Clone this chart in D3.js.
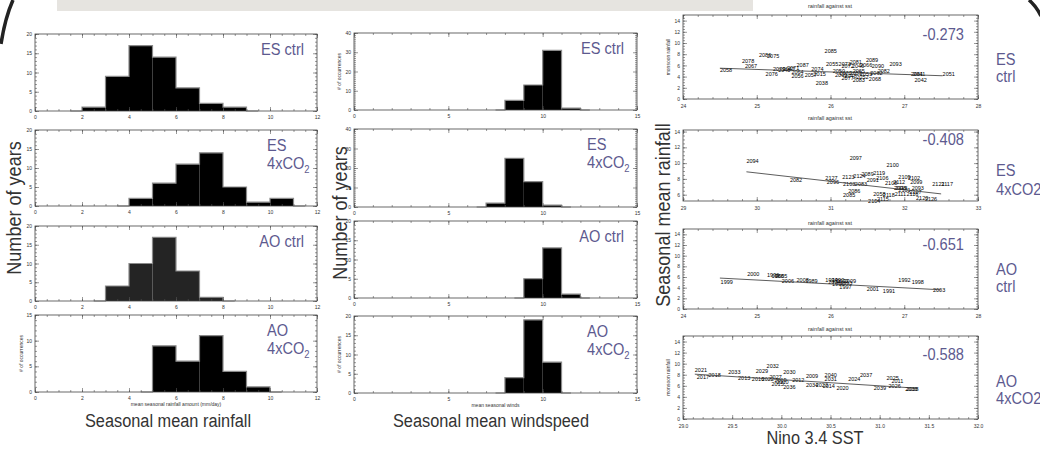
<!DOCTYPE html>
<html>
<head>
<meta charset="utf-8">
<script src="https://cdn.jsdelivr.net/npm/d3@7"></script>
<style>
  body { margin: 0; background: #fff; }
  svg { display: block; }
</style>
</head>
<body>
<svg id="chart" width="1040" height="450"></svg>
<script>
// ---- data ----
var runNames = ["ES ctrl", "ES 4xCO2", "AO ctrl", "AO 4xCO2"];
var correlations = ["-0.273", "-0.408", "-0.651", "-0.588"];

// histograms: first bin start + counts in 1-unit bins
var rainStarts = [2, 4, 3, 5];
var esCtrlRain = [1, 9, 17, 14, 6, 2, 1];
var es4xRain = [2, 6, 11, 14, 5, 1, 2];
var aoCtrlRain = [4, 10, 17, 8, 1];
var ao4xRain = [9, 6, 11, 4, 1];
var rainYMax = [20, 20, 20, 15];
var rainXTicks = [0, 2, 4, 6, 8, 10, 12];

var windStarts = [8, 7, 9, 8];
var esCtrlWind = [5, 13, 31, 1];
var es4xWind = [2, 25, 13, 1];
var aoCtrlWind = [5, 13, 1];
var ao4xWind = [4, 19, 8];
var windYMax = [40, 40, 20, 20];
var windXTicks = [0, 5, 10, 15];

// scatter: year labels at (nino3.4 sst, rainfall)
var esCtrlYears = [2058, 2078, 2067, 2086, 2075, 2079, 2076, 2043, 2047, 2071, 2064, 2056, 2087, 2074, 2057, 2015, 2085, 2055, 2038, 2073, 2081, 2072, 2046, 2089, 2066, 2090, 2093, 2082, 2062, 2068, 2083, 2050, 2049, 2070, 2048, 2059, 2065, 2052, 2077, 2053, 2061, 2041, 2042, 2051];
var esCtrlSst = [24.50, 24.80, 24.84, 25.03, 25.14, 25.22, 25.12, 25.29, 25.35, 25.41, 25.47, 25.47, 25.54, 25.74, 25.65, 25.77, 25.92, 25.94, 25.80, 26.11, 26.26, 26.15, 26.29, 26.48, 26.40, 26.56, 26.80, 26.64, 26.54, 26.52, 26.30, 26.03, 26.06, 26.12, 26.19, 26.26, 26.30, 26.35, 26.15, 26.40, 27.09, 27.12, 27.14, 27.52];
var esCtrlRainfall = [5.2, 6.8, 5.9, 7.9, 7.6, 5.3, 4.5, 5.1, 5.4, 5.5, 4.8, 4.1, 6.1, 5.4, 4.2, 4.5, 8.6, 6.25, 2.9, 6.25, 6.55, 5.8, 5.8, 7.0, 6.1, 5.8, 6.25, 4.9, 4.7, 3.6, 3.4, 4.9, 4.3, 4.7, 4.1, 4.6, 5.05, 4.0, 3.75, 4.45, 4.45, 4.45, 3.3, 4.45];

var es4xYears = [2094, 2082, 2097, 2100, 2127, 2096, 2123, 2124, 2089, 2119, 2106, 2091, 2103, 2083, 2086, 2085, 2108, 2112, 2109, 2102, 2099, 2093, 2121, 2117, 2058, 2118, 2111, 2116, 2107, 2120, 2126, 2104, 2115, 2098, 2101, 2113];
var es4xSst = [29.86, 30.45, 31.26, 31.76, 30.93, 30.95, 31.16, 31.31, 31.42, 31.58, 31.62, 31.49, 31.17, 31.33, 31.24, 31.17, 31.74, 31.85, 31.92, 32.05, 32.08, 32.10, 32.38, 32.50, 31.58, 31.71, 31.87, 32.03, 32.07, 32.16, 32.28, 31.51, 31.63, 31.86, 31.92, 31.88];
var es4xRainfall = [10.2, 7.8, 10.7, 9.7, 8.1, 7.6, 8.2, 8.4, 8.6, 8.7, 8.1, 7.8, 7.3, 7.4, 6.5, 6.0, 7.5, 7.6, 8.2, 8.1, 7.6, 6.9, 7.3, 7.3, 6.1, 6.0, 6.1, 6.1, 6.3, 5.6, 5.5, 5.2, 5.5, 6.8, 6.6, 6.9];

var aoCtrlYears = [1999, 2000, 1996, 1988, 2005, 2006, 2008, 1989, 1994, 2004, 1990, 2002, 1993, 2009, 1995, 1997, 2001, 1991, 1992, 1998, 2003];
var aoCtrlSst = [24.51, 24.87, 25.14, 25.20, 25.25, 25.34, 25.54, 25.66, 25.93, 25.97, 26.02, 26.08, 26.13, 26.18, 26.02, 26.12, 26.49, 26.71, 26.92, 27.10, 27.39];
var aoCtrlRainfall = [5.0, 6.5, 6.4, 6.2, 6.1, 5.3, 5.5, 5.2, 5.45, 5.0, 5.45, 5.15, 4.85, 5.15, 4.7, 4.1, 3.75, 3.4, 5.45, 5.1, 3.5];

var ao4xYears = [2021, 2017, 2018, 2033, 2013, 2029, 2032, 2030, 2016, 2022, 2027, 2019, 2010, 2015, 2036, 2012, 2009, 2034, 2023, 2040, 2031, 2014, 2020, 2024, 2037, 2039, 2025, 2011, 2026, 2035, 2038];
var ao4xSst = [29.12, 29.14, 29.26, 29.46, 29.56, 29.74, 29.85, 30.02, 29.70, 29.80, 29.88, 29.93, 29.95, 29.90, 30.02, 30.11, 30.25, 30.25, 30.35, 30.44, 30.44, 30.42, 30.56, 30.68, 30.80, 30.94, 31.07, 31.12, 31.09, 31.26, 31.27];
var ao4xRainfall = [8.9, 7.5, 7.9, 8.4, 7.4, 8.6, 9.5, 8.5, 7.3, 7.3, 7.6, 7.0, 6.6, 6.3, 5.8, 7.0, 7.8, 6.1, 6.1, 7.9, 7.3, 5.9, 5.5, 7.2, 8.0, 5.5, 7.4, 6.8, 6.0, 5.4, 5.4];

// regression line end points [sst0, rain0, sst1, rain1]
var fitLines = [[24.5, 5.5, 27.52, 4.15], [29.86, 8.9, 32.5, 6.1], [24.5, 5.8, 27.5, 3.6], [29.12, 8.1, 31.35, 5.6]];
var sstXTicks = [[24, 25, 26, 27, 28], [29, 30, 31, 32, 33], [24, 25, 26, 27, 28], [29.0, 29.5, 30.0, 30.5, 31.0, 31.5, 32.0]];
var sstYDomain = [[0, 15], [5.2, 14.2], [0, 15], [0, 15]];

// ---- drawing ----
var purple = "#5d5a8f";
var slideFont = "'Liberation Sans', Arial, sans-serif";
var tinyFont = "'Liberation Sans', Arial, sans-serif";
var squeeze = 0.86; // slide font is narrower than Liberation Sans

var svg = d3.select("#chart");

// slide leftovers
svg.append("rect").attr("x", 57).attr("y", 0).attr("width", 696).attr("height", 11).attr("fill", "#e6e4e0");
svg.append("path").attr("d", "M13,0 Q5,18 1,44").attr("fill", "none").attr("stroke", "#222").attr("stroke-width", 3.5);
svg.append("path").attr("d", "M1029,0 Q1036,6 1041,16").attr("fill", "none").attr("stroke", "#222").attr("stroke-width", 3.5);

// slide text, horizontally condensed
function slideText(g, x, y, size, color, anchor, rot) {
  return g.append("text")
    .attr("transform", "translate(" + x + "," + y + ")" + (rot ? " rotate(-90)" : "") + " scale(" + squeeze + ",1)")
    .attr("text-anchor", anchor || "start")
    .attr("font-family", slideFont).attr("font-size", size).attr("fill", color);
}

function stepRange(lo, hi, step) {
  var out = [];
  for (var v = lo; v <= hi + 1e-9; v += step) out.push(+v.toFixed(4));
  return out;
}

function drawFrame(g, xs, ys, o) {
  var x0 = xs.range()[0], x1 = xs.range()[1], yb = ys.range()[0], yt = ys.range()[1];
  var xd = xs.domain(), yd = ys.domain();
  var xMinor = stepRange(xd[0], xd[1], o.xMinor);
  var yMinor = stepRange(Math.ceil(yd[0] / o.yMinor) * o.yMinor, yd[1], o.yMinor);
  function put(axis, tx, ty) {
    var a = g.append("g").attr("transform", "translate(" + tx + "," + ty + ")").call(axis);
    a.select(".domain").remove();
    a.attr("font-size", 5).attr("font-family", tinyFont).attr("color", "#333");
    a.selectAll("line").attr("stroke", "#555").attr("stroke-width", 0.6);
    return a;
  }
  put(d3.axisBottom(xs).tickValues(o.xTicks).tickSize(-4).tickPadding(o.xPad || 4).tickFormat(o.xFmt || d3.format("")), 0, yb);
  put(d3.axisBottom(xs).tickValues(xMinor).tickSize(-2).tickFormat(""), 0, yb);
  put(d3.axisTop(xs).tickValues(o.xTicks).tickSize(-4).tickFormat(""), 0, yt);
  put(d3.axisTop(xs).tickValues(xMinor).tickSize(-2).tickFormat(""), 0, yt);
  put(d3.axisLeft(ys).tickValues(o.yTicks).tickSize(-4).tickPadding(3).tickFormat(d3.format("")), x0, 0);
  put(d3.axisLeft(ys).tickValues(yMinor).tickSize(-2).tickFormat(""), x0, 0);
  put(d3.axisRight(ys).tickValues(o.yTicks).tickSize(-4).tickFormat(""), x1, 0);
  put(d3.axisRight(ys).tickValues(yMinor).tickSize(-2).tickFormat(""), x1, 0);
  g.append("rect").attr("x", x0).attr("y", yt).attr("width", x1 - x0).attr("height", yb - yt)
    .attr("fill", "none").attr("stroke", "#444").attr("stroke-width", 0.8);
}

function runLabel(g, name, right, top) {
  var parts = name.split(" ");
  if (parts[1] === "ctrl") {
    slideText(g, right - 13, top + 21, 17, purple, "end").text(name);
  } else {
    slideText(g, right - 50, top + 21, 17, purple).text(parts[0]);
    var t = slideText(g, right - 50, top + 39, 17, purple);
    t.append("tspan").text(parts[1].slice(0, -1));
    t.append("tspan").attr("font-size", 11).attr("dy", 4).text(parts[1].slice(-1));
  }
}

function drawHist(p) {
  var g = svg.append("g");
  var xs = d3.scaleLinear().domain(p.xDomain).range([p.left, p.right]);
  var ys = d3.scaleLinear().domain([0, p.yMax]).range([p.bottom, p.top]);
  var bins = p.counts.map(function(c, i) { return {x0: p.start + i, x1: p.start + i + 1, n: c}; });
  g.selectAll("rect.bar").data(bins).enter().append("rect").attr("class", "bar")
    .attr("x", function(d) { return xs(d.x0); })
    .attr("width", function(d) { return xs(d.x1) - xs(d.x0); })
    .attr("y", function(d) { return ys(d.n); })
    .attr("height", function(d) { return ys(0) - ys(d.n); })
    .attr("fill", p.fill);
  var pts = [[p.start - 0.5, 0], [p.start, 0]];
  bins.forEach(function(b) { pts.push([b.x0, b.n], [b.x1, b.n]); });
  pts.push([p.start + bins.length, 0], [p.start + bins.length + 0.5, 0]);
  var step = d3.line().x(function(d) { return xs(d[0]); }).y(function(d) { return ys(d[1]); });
  g.append("path").attr("d", step(pts)).attr("fill", "none").attr("stroke", "#8a8a8a").attr("stroke-width", 1.2);
  drawFrame(g, xs, ys, {xTicks: p.xTicks, xMinor: p.xMinor, yTicks: d3.range(0, p.yMax + 1, p.yMajor), yMinor: 1});
  runLabel(g, p.name, p.right, p.top);
  if (p.yTitle) {
    g.append("text").attr("transform", "translate(" + p.yTitleX + "," + (p.top + p.bottom) / 2 + ") rotate(-90)")
      .attr("text-anchor", "middle").attr("font-family", tinyFont).attr("font-size", 5).attr("fill", "#333").text("# of occurrences");
  }
  if (p.xTitle) {
    g.append("text").attr("x", (p.left + p.right) / 2).attr("y", p.bottom + 14)
      .attr("text-anchor", "middle").attr("font-family", tinyFont).attr("font-size", 5).attr("fill", "#333").text(p.xTitle);
  }
}

var rainCounts = [esCtrlRain, es4xRain, aoCtrlRain, ao4xRain];
var windCounts = [esCtrlWind, es4xWind, aoCtrlWind, ao4xWind];
var leftTops = [34, 130, 226, 315], leftBottoms = [111, 206, 301, 392];
var midTops = [33, 129, 221, 316], midBottoms = [110, 207, 298, 393];

for (var i = 0; i < 4; i++) {
  drawHist({
    name: runNames[i], left: 35, right: 317, top: leftTops[i], bottom: leftBottoms[i],
    xDomain: [0, 12], xTicks: rainXTicks, xMinor: 0.5,
    yMax: rainYMax[i], yMajor: 5, start: rainStarts[i], counts: rainCounts[i],
    fill: i === 2 ? "#242424" : "#000",
    yTitle: i === 3, yTitleX: 23,
    xTitle: i === 3 ? "mean seasonal rainfall amount (mm/day)" : null
  });
  drawHist({
    name: runNames[i], left: 354, right: 637, top: midTops[i], bottom: midBottoms[i],
    xDomain: [0, 15], xTicks: windXTicks, xMinor: 1,
    yMax: windYMax[i], yMajor: windYMax[i] === 40 ? 10 : 5, start: windStarts[i], counts: windCounts[i],
    fill: "#000",
    yTitle: i === 0 || i === 3, yTitleX: 341,
    xTitle: i === 3 ? "mean seasonal winds" : null
  });
}

// scatter panels
var scatYears = [esCtrlYears, es4xYears, aoCtrlYears, ao4xYears];
var scatSst = [esCtrlSst, es4xSst, aoCtrlSst, ao4xSst];
var scatRain = [esCtrlRainfall, es4xRainfall, aoCtrlRainfall, ao4xRainfall];
var scatTops = [15, 130, 229, 336], scatBottoms = [99, 201, 309, 419];
var titleYs = [8, 120, 225, 331];
var corrYs = [40, 145, 250, 360];
var sideYs = [[65, 82], [176, 195], [275, 292], [387, 404]];

for (var k = 0; k < 4; k++) {
  var g = svg.append("g");
  var xt = sstXTicks[k];
  var xs = d3.scaleLinear().domain([xt[0], xt[xt.length - 1]]).range([683, 978]);
  var ys = d3.scaleLinear().domain(sstYDomain[k]).range([scatBottoms[k], scatTops[k]]);
  var pts = scatYears[k].map(function(y, j) { return {year: y, sst: scatSst[k][j], rain: scatRain[k][j]}; });
  g.selectAll("text.yr").data(pts).enter().append("text").attr("class", "yr")
    .attr("x", function(d) { return xs(d.sst); })
    .attr("y", function(d) { return ys(d.rain); })
    .attr("dy", "0.35em")
    .attr("font-family", tinyFont).attr("font-size", 5.5).attr("fill", "#000")
    .text(function(d) { return d.year; });
  var f = fitLines[k];
  g.append("line").attr("x1", xs(f[0])).attr("y1", ys(f[1])).attr("x2", xs(f[2])).attr("y2", ys(f[3]))
    .attr("stroke", "#333").attr("stroke-width", 0.8);
  drawFrame(g, xs, ys, {
    xTicks: xt, xMinor: k === 3 ? 0.1 : 0.2, xPad: 5,
    xFmt: k === 3 ? d3.format(".1f") : d3.format(""),
    yTicks: [0, 2, 4, 6, 8, 10, 12, 14].filter(function(v) { return v >= sstYDomain[k][0]; }), yMinor: 0.5
  });
  g.append("text").attr("x", 830).attr("y", titleYs[k]).attr("text-anchor", "middle")
    .attr("font-family", tinyFont).attr("font-size", 5.5).attr("fill", "#333").text("rainfall against sst");
  if (k === 0 || k === 3) {
    g.append("text").attr("transform", "translate(670," + (scatTops[k] + scatBottoms[k]) / 2 + ") rotate(-90)")
      .attr("text-anchor", "middle").attr("font-family", tinyFont).attr("font-size", 5).attr("fill", "#333").text("monsoon rainfall");
  }
  slideText(g, 964, corrYs[k], 17, purple, "end").text(correlations[k]);
  var parts = runNames[k].split(" ");
  slideText(g, 996, sideYs[k][0], 17, purple).text(parts[0]);
  slideText(g, 996, sideYs[k][1], 17, purple).text(parts[1]);
}

// slide axis titles
slideText(svg, 21, 208, 21, "#333", "middle", true).text("Number of years");
slideText(svg, 347, 213, 21, "#333", "middle", true).text("Number of years");
slideText(svg, 670, 215, 21, "#333", "middle", true).text("Seasonal mean rainfall");
slideText(svg, 168, 427, 19, "#333", "middle").text("Seasonal mean rainfall");
slideText(svg, 491, 427, 19, "#333", "middle").text("Seasonal mean windspeed");
slideText(svg, 815, 444, 19, "#333", "middle").text("Nino 3.4 SST");
</script>
</body>
</html>
